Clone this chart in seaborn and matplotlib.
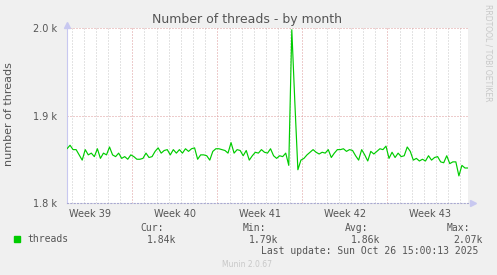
import matplotlib
matplotlib.use("Agg")
import matplotlib.pyplot as plt
from matplotlib.patches import Rectangle
import numpy as np
import pandas as pd
import seaborn as sns

# ---- data (days since start of the 33-day window, 6-hour steps) ----
threads = [
    1862, 1866, 1861, 1861, 1855, 1849, 1861, 1855, 1857, 1853, 1862, 1851,
    1857, 1855, 1864, 1855, 1853, 1857, 1851, 1853, 1850, 1855, 1853,
    1850, 1850, 1851, 1857, 1852, 1853, 1859, 1863, 1857, 1860, 1861, 1855,
    1861, 1857, 1861, 1857, 1862, 1859, 1862, 1863, 1850, 1855,
    1855, 1854, 1849, 1859, 1862, 1862, 1861, 1860, 1857, 1869, 1857, 1861,
    1860, 1854, 1860, 1849, 1854, 1858, 1857, 1861, 1858, 1857, 1862,
    1854, 1851, 1854, 1853, 1857, 1843, 1998, 1915, 1838, 1849, 1851, 1855,
    1858, 1861, 1858, 1856, 1858, 1857, 1861, 1852, 1857, 1861,
    1861, 1862, 1859, 1861, 1860, 1854, 1849, 1861, 1855, 1848, 1859, 1856,
    1859, 1862, 1861, 1865, 1851, 1858, 1852, 1857, 1853, 1854,
    1864, 1859, 1849, 1851, 1848, 1850, 1848, 1854, 1849, 1852, 1853, 1847,
    1846, 1854, 1845, 1847, 1847, 1831, 1843, 1840, 1840,
]
days = [i * 0.25 for i in range(len(threads))]

week_labels = ["Week 39", "Week 40", "Week 41", "Week 42", "Week 43"]
week_label_pos = [1.875, 8.875, 15.875, 22.875, 29.875]
week_lines = [5.375, 12.375, 19.375, 26.375]
day_lines = [0.375 + k for k in range(33)]
y_ticks = [1800, 1900, 2000]
y_tick_labels = ["1.8 k", "1.9 k", "2.0 k"]

stat_names = ["Cur:", "Min:", "Avg:", "Max:"]
stat_values = ["1.84k", "1.79k", "1.86k", "2.07k"]

df = pd.DataFrame({"day": days, "threads": threads})

W, H = 497, 275
sns.set_theme(style="white")
plt.rcParams["font.family"] = ["DejaVu Sans"]
fig = plt.figure(figsize=(W / 100, H / 100), dpi=100, facecolor="#f0f0f0")
ax = fig.add_axes([67 / W, 72 / H, 401 / W, 175 / H])
ax.set_facecolor("white")

# grid
for d in day_lines:
    if d in week_lines:
        continue
    ax.axvline(d, color="#c8c8c8", lw=0.72, ls=(0, (1, 2)), zorder=0)
for d in week_lines:
    ax.axvline(d, color="#dc9a9a", lw=0.72, ls=(0, (1, 2)), zorder=0)
for v in y_ticks[1:]:
    ax.axhline(v, color="#dc9a9a", lw=0.72, ls=(0, (1, 2)), zorder=0,
               clip_on=False)

sns.lineplot(data=df, x="day", y="threads", ax=ax, color="#00cc00",
             linewidth=0.85, zorder=3)

ax.set_xlim(0, 33)
ax.set_ylim(1800, 2000)
ax.set_xticks(week_label_pos, week_labels)
ax.set_yticks(y_ticks, y_tick_labels)
ax.tick_params(length=0, labelsize=7, colors="#555555")
ax.tick_params(axis="y", pad=7)
ax.tick_params(axis="x", pad=4)
ax.set_xlabel("")
ax.set_ylabel("")
for s in ["top", "right"]:
    ax.spines[s].set_visible(False)
ax.spines["left"].set_color("#c8c8f0")
ax.spines["left"].set_linewidth(0.8)
ax.spines["bottom"].set_color("#a8a8d0")
ax.spines["bottom"].set_linewidth(0.8)
ax.spines["bottom"].set_linestyle((0, (1, 2)))
# axis arrows
ax.plot([0], [1.02], marker="^", color="#c8c8f0", markersize=5,
        transform=ax.transAxes, clip_on=False)
ax.plot([1.012], [0], marker=">", color="#c8c8f0", markersize=5,
        transform=ax.transAxes, clip_on=False)

def fy(y):
    return 1 - y / H

fig.text(247.5 / W, fy(19), "Number of threads - by month", ha="center",
         va="center", fontsize=9, color="#555555")
fig.text(9 / W, fy(114), "number of threads", rotation=90, ha="center",
         va="center", fontsize=8, color="#555555")
fig.text(488 / W, fy(53), "RRDTOOL / TOBI OETIKER", rotation=270, ha="center",
         va="center", fontsize=5.5, color="#c8c8c8")

mono = "DejaVu Sans Mono"
fig.patches.append(Rectangle((14 / W, fy(242)), 6 / W, 6 / H,
                             transform=fig.transFigure, color="#00cc00"))
fig.text(27 / W, fy(239.5), "threads", ha="left", va="center", fontsize=7,
         family=mono, color="#555555")
name_x = [140, 243, 345, 447]
val_x = [147, 249, 351, 453]
for nx, vx, n, v in zip(name_x, val_x, stat_names, stat_values):
    fig.text(nx / W, fy(228), n, ha="left", va="center", fontsize=7,
             family=mono, color="#555555")
    fig.text(vx / W, fy(240), v, ha="left", va="center", fontsize=7,
             family=mono, color="#555555")
fig.text(261 / W, fy(251.5), "Last update: Sun Oct 26 15:00:13 2025",
         ha="left", va="center", fontsize=7, family=mono, color="#555555")
fig.text(247 / W, fy(264.5), "Munin 2.0.67", ha="center", va="center",
         fontsize=5.5, color="#c8c8c8")

fig.savefig("out.png", dpi=100, facecolor=fig.get_facecolor())
